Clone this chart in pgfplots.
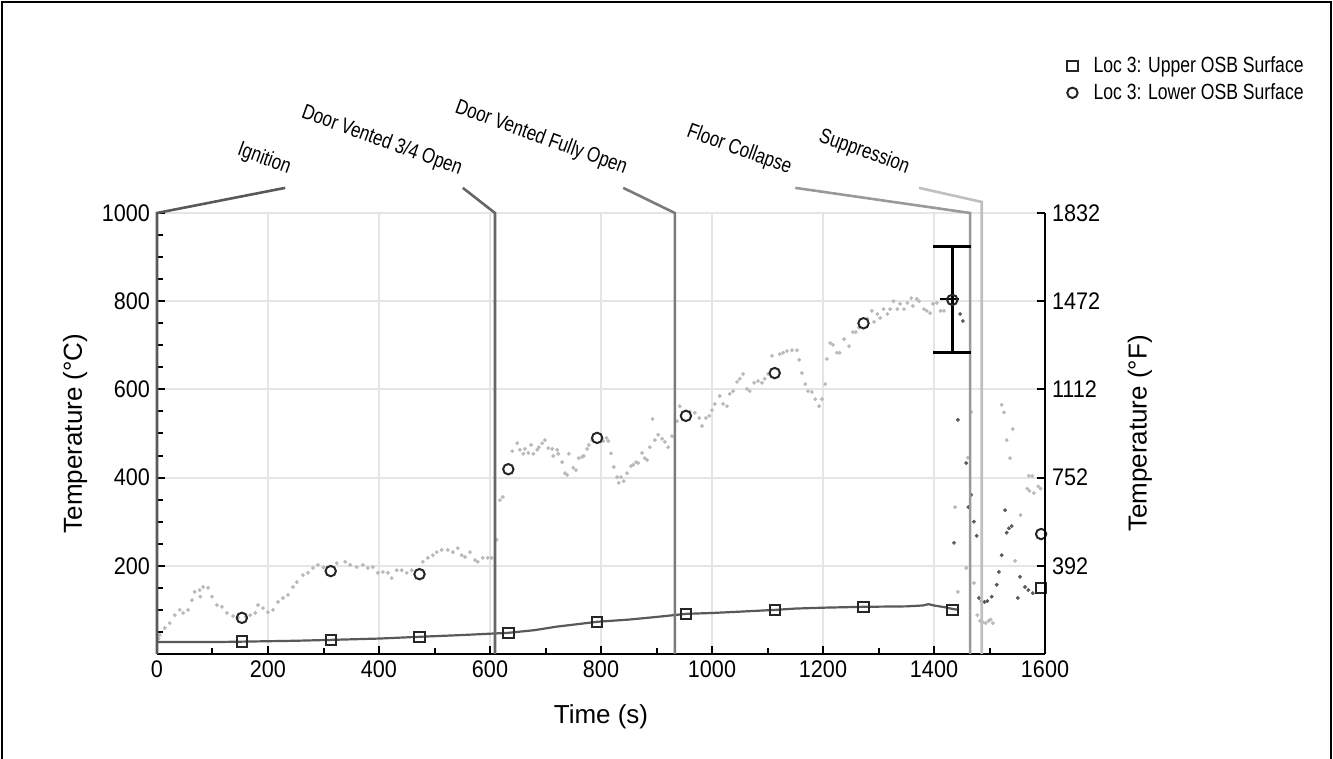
\documentclass[border=0pt]{standalone}
\usepackage{fontspec}
\setmainfont{Liberation Sans}
\newfontfamily\condfont{Liberation Sans}[FakeStretch=0.8]
\newfontfamily\tickfont{Liberation Sans}[FakeStretch=0.9]
\usepackage{pgfplots}
\pgfplotsset{compat=1.18}

\pgfplotstableread{
t T
3 35
5 43
14 59
23 70
32 88
41 100
47 93
56 100
63 122
68 141
77 145
78 130
83 152
92 150
99 130
108 111
117 107
126 93
137 86
146 83
160 84
168 88
177 93
182 111
191 104
200 95
209 100
218 118
227 127
236 134
245 152
252 163
263 179
272 184
281 195
290 202
300 196
324 206
339 209
348 202
360 197
371 202
380 195
389 197
398 184
407 186
416 184
423 172
432 190
441 190
450 184
459 190
479 209
488 218
497 224
504 231
513 236
524 236
533 231
542 240
549 224
555 220
564 231
573 213
578 209
587 218
596 218
603 218
612 259
618 349
623 356
640 460
649 478
654 463
660 454
663 465
669 456
674 474
678 454
685 463
688 469
694 478
699 485
705 467
712 465
714 449
721 463
723 454
730 435
735 410
739 406
742 454
750 422
755 417
760 444
766 447
769 449
775 465
778 474
784 485
804 483
810 490
813 483
818 455
823 424
829 401
832 388
836 401
841 392
847 410
854 426
858 429
863 435
867 433
874 456
879 444
883 440
888 469
893 533
897 485
903 497
910 488
915 481
921 469
928 494
937 528
942 562
960 549
969 547
977 535
982 517
989 535
995 540
1000 553
1005 567
1014 585
1020 567
1027 562
1032 590
1038 596
1045 617
1050 624
1056 635
1063 601
1068 596
1076 615
1083 619
1090 615
1095 624
1101 635
1108 676
1122 680
1128 683
1135 687
1144 689
1153 689
1157 667
1162 637
1168 612
1173 596
1180 594
1186 578
1193 562
1198 578
1204 612
1207 669
1213 705
1218 701
1225 683
1230 683
1238 714
1247 698
1254 730
1259 730
1265 740
1280 760
1288 778
1292 753
1298 771
1303 762
1309 782
1316 771
1321 782
1327 800
1334 782
1339 794
1346 782
1352 796
1359 807
1362 789
1369 805
1373 800
1382 782
1387 778
1393 773
1398 794
1405 796
1412 778
1418 778
1423 805
1438 333
1443 141
1458 195
1461 445
1467 549
1472 161
1478 88
1483 75
1488 72
1493 70
1498 75
1502 78
1506 70
1522 565
1526 548
1531 485
1537 444
1542 510
1546 211
1556 315
1568 375
1571 404
1572 370
1577 404
1580 365
1588 380
1592 375
}\lowerdots

\pgfplotstableread{
t T
1436 252
1443 531
1447 771
1452 755
1458 433
1462 333
1467 361
1472 300
1477 268
1481 127
1486 120
1491 118
1496 120
1504 130
1513 157
1517 186
1522 224
1528 326
1531 275
1535 285
1540 290
1551 127
1555 175
1564 152
1570 145
1578 138
}\darkdots

\pgfplotstableread{
t T
0 27
100 27
153 28
250 30
313 32
400 35
473 39
550 43
633 48
680 54
720 62
760 68
793 73
850 78
900 84
953 91
1000 93
1050 96
1113 100
1150 103
1200 105
1273 107
1350 108
1380 110
1390 113
1400 110
1420 106
1434 102
1445 100
}\upperline

\pgfplotstableread{
t T
153 28
313 32
473 39
633 48
793 73
953 91
1113 100
1273 107
1433 100
1593 150
}\uppermarks

\pgfplotstableread{
t T
153 82
313 188
473 181
633 419
793 490
953 540
1113 637
1273 750
1433 803
1593 272
}\lowermarks

\begin{document}
\begin{tikzpicture}
\begin{axis}[
  scale only axis, width=444pt, height=220.5pt,
  xmin=0, xmax=1600, ymin=0, ymax=1000,
  clip mode=individual,
  axis x line=bottom, axis y line=left,
  axis line style={-, line width=1.4pt, black},
  xtick={0,200,...,1600}, minor xtick={100,300,...,1500},
  ytick={200,400,...,1000}, minor ytick={50,100,...,950},
  tick style={black, line width=1pt}, major tick length=4pt, minor tick length=3pt,
  tick align=inside,
  grid=major, major grid style={gray!20, line width=1pt},
  ticklabel style={font=\tickfont\fontsize{12}{14}\selectfont},
  /pgf/number format/assume math mode=true,
  /pgf/number format/1000 sep={},
  xlabel={Time (s)}, ylabel={Temperature (°C)},
  every axis x label/.style={at={(axis description cs:0.5,-0.143)}, anchor=center, font=\fontsize{13}{15}\selectfont},
  every axis y label/.style={at={(axis description cs:-0.0923,0.5)}, rotate=90, anchor=center, font=\fontsize{13}{15}\selectfont},
  legend style={at={(axis description cs:1.0246,1.365)}, anchor=north west, draw=none, fill=none,
    font=\condfont\fontsize{11}{13}\selectfont, row sep=0pt, column sep=6pt, inner sep=0pt},
  legend cell align=left,
]
\addplot[forget plot, only marks, mark=*, mark size=0.75pt, color=gray!55] table[x=t,y=T] {\lowerdots};
\addplot[forget plot, only marks, mark=*, mark size=0.75pt, color=black!65] table[x=t,y=T] {\darkdots};
\addplot[forget plot, no marks, line width=1.1pt, color=black!65] table[x=t,y=T] {\upperline};

% event lines
\draw[line width=1.3pt, black!65] (axis cs:0,0) -- (axis cs:0,1000) -- (axis cs:231,1057);
\draw[line width=1.3pt, black!60] (axis cs:609,0) -- (axis cs:609,1000) -- (axis cs:551,1057);
\draw[line width=1.3pt, black!52] (axis cs:933,0) -- (axis cs:933,1000) -- (axis cs:840,1057);
\draw[line width=1.3pt, black!40] (axis cs:1465,0) -- (axis cs:1465,1000) -- (axis cs:1150,1057);
\draw[line width=1.3pt, black!25] (axis cs:1486,0) -- (axis cs:1486,1025) -- (axis cs:1373,1057);

\begin{scope}[every node/.style={rotate=-20, font=\condfont\fontsize{10.6}{12}\selectfont}]
\node at (axis cs:193,1122) {Ignition};
\node at (axis cs:405,1163) {Door Vented 3/4 Open};
\node at (axis cs:692,1170) {Door Vented Fully Open};
\node at (axis cs:1049,1143) {Floor Collapse};
\node at (axis cs:1274,1138) {Suppression};
\end{scope}

% error bar
\addplot[forget plot, line width=1.5pt, black] coordinates {(1433,683) (1433,923)};
\addplot[forget plot, line width=1.5pt, black] coordinates {(1399,923) (1467,923)};
\addplot[forget plot, line width=1.5pt, black] coordinates {(1399,683) (1467,683)};
\addplot[forget plot, line width=1pt, black] coordinates {(1410,805) (1445,805)};

\addplot[only marks, mark=square, mark size=2.6pt, mark options={draw=black!85, fill=none, line width=1pt}]
  table[x=t,y=T] {\uppermarks};
\addlegendentry{Loc 3: Upper OSB Surface}
\addplot[only marks, mark=o, mark size=2.6pt, mark options={draw=black!85, fill=none, line width=1pt}]
  table[x=t,y=T] {\lowermarks};
\addlegendentry{Loc 3: Lower OSB Surface}
\end{axis}

\begin{axis}[
  scale only axis, width=444pt, height=220.5pt,
  xmin=0, xmax=1600, ymin=32, ymax=1832,
  axis x line=none, axis y line=right,
  axis line style={-, line width=1.4pt, black},
  ytick={392,752,1112,1472,1832},
  tick style={black, line width=1pt}, major tick length=4pt,
  tick align=inside,
  ticklabel style={font=\tickfont\fontsize{12}{14}\selectfont},
  /pgf/number format/assume math mode=true,
  /pgf/number format/1000 sep={},
  ylabel={Temperature (°F)},
  every axis y label/.style={at={(axis description cs:1.107,0.5)}, rotate=90, anchor=center, font=\fontsize{13}{15}\selectfont},
]
\addplot[draw=none, forget plot] coordinates {(0,32) (1600,1832)};
\end{axis}

\draw[line width=1.2pt, black] (-77.5pt,-53pt) -- (-77.5pt,326pt) -- (587pt,326pt) -- (587pt,-53pt);
\pgfresetboundingbox
\useasboundingbox (-78.5pt,-52.5pt) rectangle (588pt,327pt);
\end{tikzpicture}
\end{document}
